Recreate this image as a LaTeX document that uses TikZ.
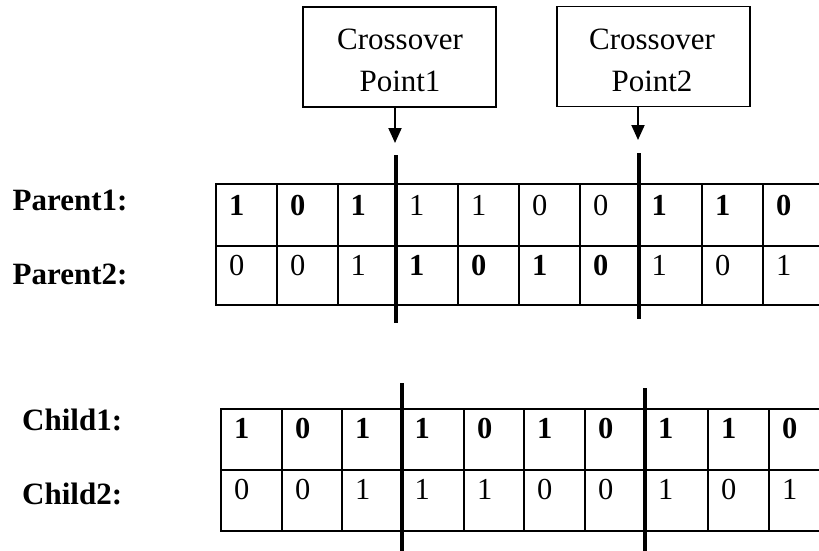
\documentclass[tikz,border=0pt]{standalone}
\usepackage{fontspec}
\setmainfont{Liberation Serif}
\usetikzlibrary{arrows.meta}
\begin{document}
\begin{tikzpicture}[x=1pt,y=-1pt,
  gridline/.style={line width=2pt},
  cutline/.style={line width=4pt},
  pointbox/.style={draw,line width=1.8pt,minimum width=193pt,minimum height=100pt,inner sep=0pt},
  boxtext/.style={anchor=base,inner sep=0pt,font=\fontsize{31}{37}\selectfont},
  pointer/.style={line width=2pt,-{Triangle[length=15pt,width=13pt]}},
  digitst/.style={anchor=base west,inner sep=0pt,font=\fontsize{30.5}{36}\selectfont},
  boldst/.style={digitst,font=\fontsize{30.5}{36}\selectfont\bfseries},
  rowlabel/.style={anchor=base west,inner sep=0pt,font=\fontsize{31}{37}\selectfont\bfseries}]
\useasboundingbox (0,0) rectangle (819,551);
\fill[white] (0,0) rectangle (819,551);

% crossover boxes
\node[pointbox] (box1) at (399.5,57) {};
\node[pointbox] (box2) at (653.5,56.5) {};
\node[boxtext] (b1a) at (400,50) {Crossover};
\node[boxtext] (b1b) at (400,91) {Point1};
\node[boxtext] (b2a) at (652,50) {Crossover};
\node[boxtext] (b2b) at (652,91) {Point2};
\coordinate (a1) at (395,143);
\coordinate (a2) at (638,140);
\draw[pointer] (box1.south -| a1) -- (a1);
\draw[pointer] (box2.south -| a2) -- (a2);

% row labels
\node[rowlabel] (p1) at (12.5,210) {Parent1:};
\node[rowlabel] (p2) at (12.5,284) {Parent2:};
\node[rowlabel] (c1) at (22,430) {Child1:};
\node[rowlabel] (c2) at (22,504) {Child2:};

% parent table
\foreach \yy in {184,246,305} \draw[gridline] (215,\yy) -- (830,\yy);
\foreach \xx in {216,277,337.5,458,519,580,702,763} \draw[gridline] (\xx,184) -- (\xx,305);
\draw[cutline] (396,155) -- (396,323);
\draw[cutline] (638.5,153) -- (638.5,319);

% child table
\foreach \yy in {409,470,531} \draw[gridline] (220,\yy) -- (830,\yy);
\foreach \xx in {221,282,342,464,524,585,708,769} \draw[gridline] (\xx,409) -- (\xx,531);
\draw[cutline] (401.5,383) -- (401.5,552);
\draw[cutline] (645,388) -- (645,552);

% parent digits
\foreach \xx/\d/\st [count=\i] in {216/1/boldst,277/0/boldst,337.5/1/boldst,396/1/digitst,458/1/digitst,519/0/digitst,580/0/digitst,638.5/1/boldst,702/1/boldst,763/0/boldst}
  \node[\st] (pa\i) at (\xx+13,215) {\d};
\foreach \xx/\d/\st [count=\i] in {216/0/digitst,277/0/digitst,337.5/1/digitst,396/1/boldst,458/0/boldst,519/1/boldst,580/0/boldst,638.5/1/digitst,702/0/digitst,763/1/digitst}
  \node[\st] (pb\i) at (\xx+13,275) {\d};

% child digits
\foreach \xx/\d [count=\i] in {221/1,282/0,342/1,401.5/1,464/0,524/1,585/0,645/1,708/1,769/0}
  \node[boldst] (ca\i) at (\xx+13,438) {\d};
\foreach \xx/\d [count=\i] in {221/0,282/0,342/1,401.5/1,464/1,524/0,585/0,645/1,708/0,769/1}
  \node[digitst] (cb\i) at (\xx+13,499) {\d};
\end{tikzpicture}
\end{document}
